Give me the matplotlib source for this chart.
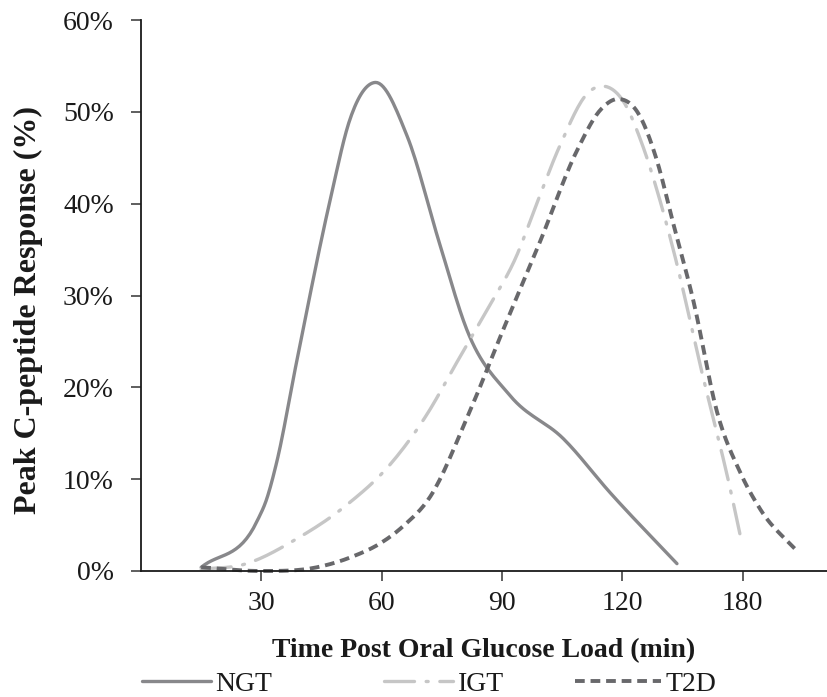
import numpy as np
import matplotlib
matplotlib.use("Agg")
import matplotlib.pyplot as plt
from matplotlib.lines import Line2D
from matplotlib.ticker import FuncFormatter

# ---- data (time in axis units, % response) ----
ngt_t = [15, 28.9, 31.3, 33.8, 38.8, 47.1, 52.1, 58.4, 66.3, 74.6, 81.2, 92.0, 105.3, 117.0, 133.6]
ngt_v = [0.4, 5.4, 7.8, 11.8, 22.8, 40.3, 49.2, 53.2, 47.4, 35.4, 26.3, 19.1, 14.4, 8.5, 0.8]

igt_t = [15, 25.5, 38.8, 51.3, 62.1, 71.2, 78.7, 86.2, 93.5, 98.9, 104.5, 111.5,
         115.3, 120.3, 124.9, 129.4, 133.2, 139.4, 146.9, 149.8]
igt_v = [0.2, 0.7, 3.5, 7.2, 11.6, 17.0, 22.7, 28.4, 34.2, 40.3, 46.4, 52.1,
         52.8, 51.1, 46.5, 40.3, 34.1, 22.4, 8.9, 3.0]

t2d_t = [15, 30, 43.8, 52.9, 59.6, 65.4, 72.1, 81.2, 90.4, 99.5, 108.7, 114.5,
         119.0, 124.4, 128.6, 132.7, 137.7, 143.6, 149.4, 154.4, 163.9]
t2d_v = [0.4, 0.0, 0.4, 1.6, 3.0, 4.9, 8.1, 16.6, 26.4, 35.9, 45.8, 50.2,
         51.4, 49.5, 44.7, 37.8, 29.4, 17.3, 10.7, 6.7, 2.0]

tick_pos = [30, 60, 90, 120, 150]
tick_labels = ["30", "60", "90", "120", "180"]
y_ticks = [0, 10, 20, 30, 40, 50, 60]

series_names = ["NGT", "IGT", "T2D"]


def smooth(x, y, n=16):
    """Cubic Hermite smoothing through the read points (a 'smoothed line')."""
    x = np.asarray(x, float)
    y = np.asarray(y, float)
    m = np.gradient(y, x)
    xs, ys = [], []
    for i in range(len(x) - 1):
        h = x[i + 1] - x[i]
        t = np.linspace(0, 1, n, endpoint=(i == len(x) - 2))
        h00 = 2 * t**3 - 3 * t**2 + 1
        h10 = t**3 - 2 * t**2 + t
        h01 = -2 * t**3 + 3 * t**2
        h11 = t**3 - t**2
        xs.append(x[i] + t * h)
        ys.append(h00 * y[i] + h10 * h * m[i] + h01 * y[i + 1] + h11 * h * m[i + 1])
    return np.concatenate(xs), np.concatenate(ys)


plt.rcParams['font.family'] = ['Liberation Serif', 'DejaVu Serif']

W, H = 827, 697
fig = plt.figure(figsize=(W / 100, H / 100), dpi=100)
ax = fig.add_axes([141 / W, 1 - 571 / H, (W - 141) / W, (571 - 20) / H])

c_ngt = "#88888b"
c_igt = "#c6c6c6"
c_t2d = "#68686b"
c_txt = "#1a1a1a"

styles = {
    "NGT": dict(color=c_ngt, lw=2.4, linestyle="-", solid_capstyle="round"),
    "IGT": dict(color=c_igt, lw=2.4, linestyle=(0, (9, 3.5, 0.6, 3.5)), dash_capstyle="round"),
    "T2D": dict(color=c_t2d, lw=2.8, linestyle=(0, (2.5, 1.5)), dash_capstyle="butt"),
}

for name, t, v in [("NGT", ngt_t, ngt_v), ("IGT", igt_t, igt_v), ("T2D", t2d_t, t2d_v)]:
    xs, ys = smooth(t, v)
    ax.plot(xs, ys, **styles[name], clip_on=False)

ax.set_xlim(0, 171)
ax.set_ylim(0, 60)
ax.set_xticks(tick_pos)
ax.set_xticklabels(tick_labels)
ax.set_yticks(y_ticks)
ax.yaxis.set_major_formatter(FuncFormatter(lambda v, p: f"{int(v)}%"))

for s in ["top", "right"]:
    ax.spines[s].set_visible(False)
for s in ["left", "bottom"]:
    ax.spines[s].set_linewidth(1.3)
    ax.spines[s].set_color(c_txt)

ax.tick_params(axis="both", direction="out", length=7.5, width=1.1, color="#333333",
               labelsize=20, labelcolor=c_txt)
ax.tick_params(axis="x", pad=7)
ax.tick_params(axis="y", pad=12)

fig.text(28 / W, 1 - 310 / H, "Peak C-peptide Response (%)", rotation=90,
         ha="center", va="center", fontsize=23, fontweight="bold", color=c_txt)
fig.text(484 / W, 1 - 651 / H, "Time Post Oral Glucose Load (min)",
         ha="center", va="center", fontsize=20, fontweight="bold", color=c_txt)

# legend entries (bottom row)
leg_x = {"NGT": 142, "IGT": 384, "T2D": 575}
leg_len = {"NGT": 2.5, "IGT": 2.5, "T2D": 3.1}
for name in series_names:
    h = Line2D([], [], **styles[name])
    lg = fig.legend([h], [name], loc="center left",
                    bbox_to_anchor=(leg_x[name] / W, 1 - 684 / H),
                    frameon=False, fontsize=20, handlelength=leg_len[name],
                    handletextpad=0.15, borderpad=0, borderaxespad=0)
    for txt in lg.get_texts():
        txt.set_color(c_txt)

fig.savefig("out.png", dpi=100)
